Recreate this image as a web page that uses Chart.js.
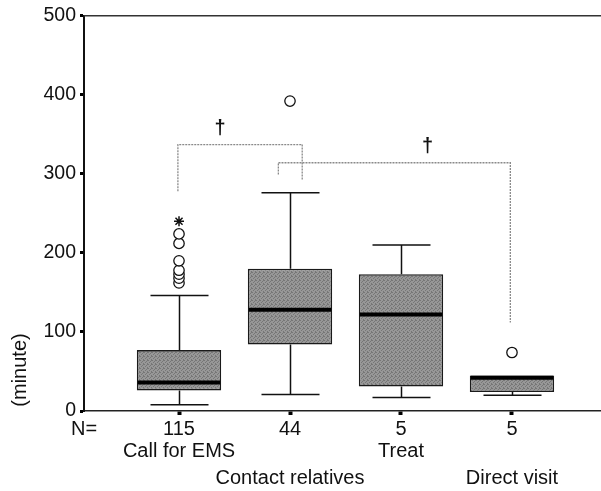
<!DOCTYPE html>
<html>
<head>
<meta charset="utf-8">
<script src="https://cdn.jsdelivr.net/npm/chart.js@4"></script>
<style>
html,body{margin:0;padding:0;background:#fff;}
canvas{display:block;}
</style>
</head>
<body>
<canvas id="c" width="601" height="491"></canvas>
<script>
// ---- data ----
const categories = ['Call for EMS', 'Contact relatives', 'Treat', 'Direct visit'];
const nCounts = ['115', '44', '5', '5'];
const whiskerLow = [8, 21, 17, 20];
const q1 = [26, 84, 31, 24];
const median = [36, 128, 122, 42];
const q3 = [77, 180, 173, 45];
const whiskerHigh = [146, 276, 210, 45];
const outliers = [[162, 168, 173, 178, 190, 212, 224], [392], [], [74]];
const extremes = [[240], [], [], []];
const yTicks = [0, 100, 200, 300, 400, 500];
const bracket1X = [0.99, 0.99, 2.11, 2.11];
const bracket1Y = [278, 337, 337, 292];
const bracket2X = [1.895, 1.895, 3.985, 3.985];
const bracket2Y = [299, 314, 314, 112];
const daggerX = [1.37, 3.24];
const daggerY = [357, 334];

const FONT = '"Liberation Sans", Arial, Helvetica, sans-serif';
const canvas = document.getElementById('c');
const ctx0 = canvas.getContext('2d');

// stippled gray fill
const pc = document.createElement('canvas');
pc.width = 4; pc.height = 4;
const pg = pc.getContext('2d');
pg.fillStyle = '#979797'; pg.fillRect(0, 0, 4, 4);
pg.fillStyle = '#767676';
[[0,0],[2,1],[1,2],[3,3],[3,0]].forEach(([a,b]) => pg.fillRect(a, b, 1, 1));
const boxFill = ctx0.createPattern(pc, 'repeat');

const catX = categories.map((c, i) => i + 1);

const outlierPts = [];
outliers.forEach((arr, i) => arr.forEach(v => outlierPts.push({x: catX[i], y: v})));
const extremePts = [];
extremes.forEach((arr, i) => arr.forEach(v => extremePts.push({x: catX[i], y: v})));

const boxPlugin = {
  id: 'boxExtras',
  beforeDatasetsDraw(chart) {
    const {ctx, scales: {x, y}} = chart;
    ctx.save();
    ctx.strokeStyle = '#111';
    ctx.lineWidth = 1.5;
    const capHalf = 29;
    catX.forEach((cx, i) => {
      const px = Math.round(x.getPixelForValue(cx)) + 0.5;
      ctx.beginPath();
      if (whiskerHigh[i] > q3[i]) {
        ctx.moveTo(px, y.getPixelForValue(q3[i]));
        ctx.lineTo(px, y.getPixelForValue(whiskerHigh[i]));
        const yh = y.getPixelForValue(whiskerHigh[i]);
        ctx.moveTo(px - capHalf, yh); ctx.lineTo(px + capHalf, yh);
      }
      if (whiskerLow[i] < q1[i]) {
        ctx.moveTo(px, y.getPixelForValue(q1[i]));
        ctx.lineTo(px, y.getPixelForValue(whiskerLow[i]));
        const yl = y.getPixelForValue(whiskerLow[i]);
        ctx.moveTo(px - capHalf, yl); ctx.lineTo(px + capHalf, yl);
      }
      ctx.stroke();
    });
    ctx.restore();
  },
  afterDatasetsDraw(chart) {
    const {ctx, scales: {x, y}} = chart;
    const meta = chart.getDatasetMeta(0);
    ctx.save();
    ctx.strokeStyle = '#000';
    ctx.lineWidth = 4;
    catX.forEach((cx, i) => {
      const bar = meta.data[i];
      const w = bar.width;
      const px = x.getPixelForValue(cx);
      const py = y.getPixelForValue(median[i]);
      ctx.beginPath();
      ctx.moveTo(px - w / 2 + 1, py);
      ctx.lineTo(px + w / 2 - 1, py);
      ctx.stroke();
    });
    ctx.restore();
  },
  afterDraw(chart) {
    const {ctx, chartArea, scales: {x, y}} = chart;
    ctx.save();
    // top frame line
    ctx.strokeStyle = '#333';
    ctx.lineWidth = 1.5;
    ctx.beginPath();
    ctx.moveTo(chartArea.left, chartArea.top);
    ctx.lineTo(chartArea.right, chartArea.top);
    ctx.stroke();

    ctx.fillStyle = '#111';
    ctx.font = '20px ' + FONT;
    ctx.textBaseline = 'middle';
    // y title
    ctx.save();
    ctx.translate(20, 370);
    ctx.rotate(-Math.PI / 2);
    ctx.textAlign = 'center';
    ctx.fillText('(minute)', 0, 0);
    ctx.restore();
    // N=
    ctx.textAlign = 'left';
    ctx.fillText('N=', 71, 429);
    ctx.textAlign = 'center';
    catX.forEach((cx, i) => {
      const px = x.getPixelForValue(cx);
      ctx.fillText(nCounts[i], px, 429);
      const ly = (i % 2 === 0) ? 451 : 478;
      ctx.fillText(categories[i], px, ly);
    });
    // daggers
    ctx.font = 'bold 20px ' + FONT;
    daggerX.forEach((dx, i) => {
      ctx.fillText('\u2020', x.getPixelForValue(dx), y.getPixelForValue(daggerY[i]));
    });
    ctx.restore();
  }
};

const bracketStyle = {
  type: 'line',
  borderColor: '#8a8a8a',
  borderWidth: 1.3,
  borderDash: [2, 1],
  pointRadius: 0,
  fill: false,
  tension: 0
};

new Chart(canvas, {
  type: 'bar',
  data: {
    datasets: [
      {
        type: 'bar',
        data: catX.map((cx, i) => ({x: cx, y: [q1[i], q3[i]]})),
        backgroundColor: boxFill,
        borderColor: '#1a1a1a',
        borderWidth: 1.6,
        borderSkipped: false,
        barPercentage: 0.76,
        categoryPercentage: 1.0
      },
      {
        type: 'scatter',
        data: outlierPts,
        pointStyle: 'circle',
        pointRadius: 5.2,
        pointBackgroundColor: '#fff',
        pointBorderColor: '#111',
        pointBorderWidth: 1.3
      },
      {
        type: 'scatter',
        data: extremePts,
        pointStyle: 'star',
        pointRadius: 5,
        pointBorderColor: '#111',
        pointBorderWidth: 1.5
      },
      Object.assign({data: bracket1X.map((v, i) => ({x: v, y: bracket1Y[i]}))}, bracketStyle),
      Object.assign({data: bracket2X.map((v, i) => ({x: v, y: bracket2Y[i]}))}, bracketStyle)
    ]
  },
  options: {
    responsive: false,
    animation: false,
    devicePixelRatio: 1,
    layout: {autoPadding: false, padding: {top: 15, left: 0, right: 0, bottom: 0}},
    plugins: {legend: {display: false}, tooltip: {enabled: false}},
    scales: {
      x: {
        type: 'linear',
        offset: false,
        min: 0.144,
        max: 4.802,
        afterBuildTicks: (s) => { s.ticks = catX.map(v => ({value: v})); },
        afterFit: (s) => { s.height = 80; },
        ticks: {display: false},
        grid: {offset: false, drawOnChartArea: false, drawTicks: true, tickLength: 4, tickWidth: 4, tickColor: '#000'},
        border: {display: true, color: '#222', width: 1.5}
      },
      y: {
        type: 'linear',
        min: 0,
        max: 500,
        afterBuildTicks: (s) => { s.ticks = yTicks.map(v => ({value: v})); },
        afterFit: (s) => { s.width = 84; },
        ticks: {color: '#111', font: {family: FONT, size: 19.5}, padding: 4},
        grid: {drawOnChartArea: false, drawTicks: true, tickLength: 4, tickWidth: 3, tickColor: '#000'},
        border: {display: true, color: '#111', width: 2}
      }
    }
  },
  plugins: [boxPlugin]
});
</script>
</body>
</html>
